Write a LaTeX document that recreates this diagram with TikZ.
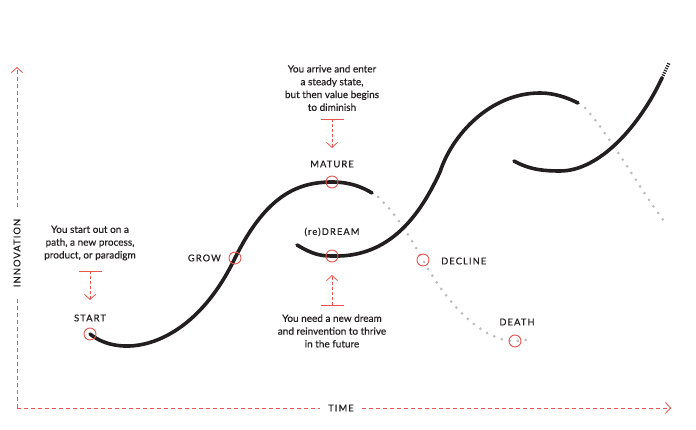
\documentclass[tikz,border=0pt]{standalone}
\usepackage{fontspec}
\setmainfont{Lato}[FakeBold=0.4]
\newfontfamily\capsfont[LetterSpace=12, FakeBold=0.6]{Lato}
\usetikzlibrary{arrows.meta}
\definecolor{markred}{HTML}{E8554E}
\definecolor{dotgray}{HTML}{BDBDBD}
\definecolor{ink}{HTML}{231F20}

\begin{document}
\begin{tikzpicture}[
  x=1pt, y=-1pt,
  font=\fontsize{10}{12.8}\selectfont, text=ink,
  note/.style={align=center, inner sep=0pt},
  tag/.style={font=\capsfont\fontsize{9.3}{10}\selectfont, inner sep=0pt},
  axis/.style={draw=markred, line width=0.8pt, dash pattern=on 4pt off 3pt},
  pointer/.style={draw=markred, line width=0.8pt, dash pattern=on 3pt off 2pt},
  chevron/.style={-{Straight Barb[length=5pt, width=11pt]}},
  bar/.style={draw=markred, line width=0.8pt},
  curve/.style={draw=ink, line width=3.6pt, line cap=round},
  dots/.style={draw=dotgray, line width=3pt, line cap=round, dash pattern=on 0pt off 8pt},
  ring/.style={draw=markred, line width=0.9pt, circle, minimum size=12pt, inner sep=0pt}
]
\useasboundingbox (0,0) rectangle (696,430);

% axes
\coordinate (origin) at (17,408);
\coordinate (ytip) at (17,67);
\coordinate (xtip) at (671,408);
\node[tag, rotate=90, inner xsep=12pt] (innov) at (17,253) {INNOVATION};
\node[tag, inner xsep=8pt] (timelbl) at (341,408) {TIME};
\draw[axis] (origin) -- (innov.west);
\draw[axis, chevron] (innov.east) -- (ytip);
\draw[axis] (origin) -- (timelbl.west);
\draw[axis, chevron] (timelbl.east) -- (xtip);

% key points on the waves
\coordinate (start) at (90,334);
\coordinate (grow) at (235,258);
\coordinate (mature) at (332,182);
\coordinate (dream) at (332,256);
\coordinate (decline) at (423,260);
\coordinate (death) at (515,341);

% fading branches
\draw[dots] (378,197) .. controls (395,212) and (412,240) .. (decline)
  .. controls (445,300) and (480,341) .. (death)
  .. controls (520,341) and (524,340) .. (527,340);
\draw[dots] (585,108) .. controls (610,135) and (640,190) .. (667,225);

% waves
\draw[curve] (start) .. controls (122,360) and (192,348) .. (grow)
  .. controls (265,198) and (295,182) .. (mature)
  .. controls (350,182) and (362,187) .. (372,193);
\draw[curve] (297,245) .. controls (312,254) and (320,256) .. (dream)
  .. controls (390,258) and (420,215) .. (440,172)
  .. controls (452,135) and (490,93) .. (540,93)
  .. controls (555,93) and (568,98) .. (578,103);
\draw[curve] (514,161) .. controls (530,170) and (545,171) .. (560,171)
  .. controls (600,171) and (640,125) .. (662,78);
\draw[ink, line width=3.2pt, dash pattern=on 1.2pt off 1.3pt] (662,78) -- (669,63);

% rings
\node[ring] (startring) at (start) {};
\node[ring] (growring) at (grow) {};
\node[ring] (maturering) at (mature) {};
\node[ring] (dreamring) at (dream) {};
\node[ring] (declinering) at (decline) {};
\node[ring] (deathring) at (death) {};

% stage labels
\node[tag] (startlbl) at (90,318) {START};
\node[tag, anchor=east] (growlbl) at (221,258) {GROW};
\node[tag] (maturelbl) at (332,164) {MATURE};
\node[tag] (dreamlbl) at (332,232) {(re)DREAM};
\node[tag, anchor=west] (declinelbl) at (441,261) {DECLINE};
\node[tag] (deathlbl) at (517,322) {DEATH};

% notes with pointers
\node[note] (startnote) at (90,243) {You start out on a\\path, a new process,\\product, or paradigm};
\coordinate (startbar) at (90,271);
\coordinate (starttip) at (90,300);
\draw[bar] ([xshift=-11.5pt]startbar) -- ([xshift=11.5pt]startbar);
\draw[pointer, chevron] (startbar) -- (starttip);

\node[note] (maturenote) at (332,88) {You arrive and enter\\a steady state,\\but then value begins\\to diminish};
\coordinate (maturebar) at (332,119);
\coordinate (maturetip) at (332,148);
\draw[bar] ([xshift=-11.5pt]maturebar) -- ([xshift=11.5pt]maturebar);
\draw[pointer, chevron] (maturebar) -- (maturetip);

\node[note] (dreamnote) at (332,331) {You need a new dream\\and reinvention to thrive\\in the future};
\coordinate (dreambar) at (332,305);
\coordinate (dreamtip) at (332,275);
\draw[bar] ([xshift=-11.5pt]dreambar) -- ([xshift=11.5pt]dreambar);
\draw[pointer, chevron] (dreambar) -- (dreamtip);

\end{tikzpicture}
\end{document}
